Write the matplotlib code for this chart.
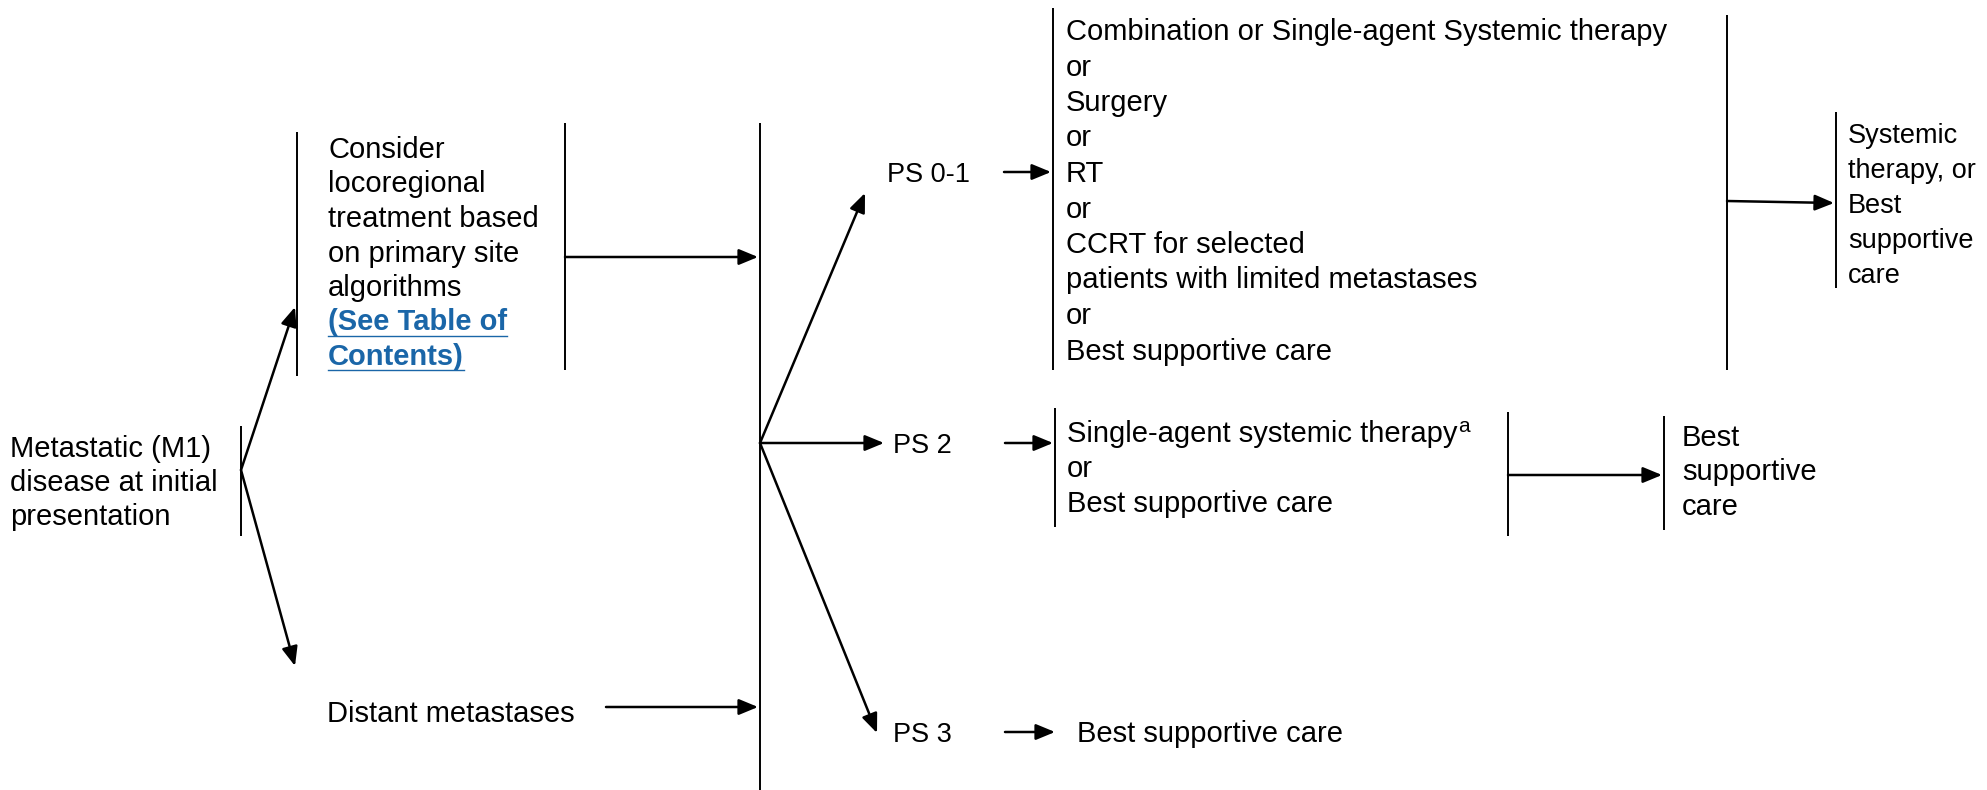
import matplotlib
matplotlib.use("Agg")
import matplotlib.pyplot as plt

# ---------------- data (text content) ----------------
start_lines = ["Metastatic (M1)", "disease at initial", "presentation"]
consider_lines = ["Consider", "locoregional", "treatment based", "on primary site", "algorithms"]
link_lines = ["(See Table of", "Contents)"]
distant_label = "Distant metastases"
ps_labels = ["PS 0-1", "PS 2", "PS 3"]
ps01_options = ["Combination or Single-agent Systemic therapy", "or", "Surgery", "or", "RT", "or",
                "CCRT for selected", "patients with limited metastases", "or", "Best supportive care"]
ps01_next = ["Systemic", "therapy, or", "Best", "supportive", "care"]
ps2_options = ["Single-agent systemic therapy", "or", "Best supportive care"]
ps2_footnote = "a"
ps2_next = ["Best", "supportive", "care"]
ps3_option = "Best supportive care"

# ---------------- layout / style ----------------
W, H = 1987, 790
FS = 21          # pt (≈29 px at 100 dpi)
FS_PS = 19.5
FS_RIGHT = 19.5
FONT = "Liberation Sans"
LINK_COLOR = "#1a66a8"
LW_BAR = 1.4
LW_ARR = 1.8

fig = plt.figure(figsize=(W / 100, H / 100), dpi=100)
ax = fig.add_axes([0, 0, 1, 1])
ax.set_xlim(0, W)
ax.set_ylim(H, 0)
ax.axis("off")


def bar(x, y0, y1):
    ax.plot([x, x], [y0, y1], color="black", lw=LW_BAR, solid_capstyle="butt")


def arrow(x0, y0, x1, y1):
    ax.annotate("", xy=(x1, y1), xytext=(x0, y0),
                arrowprops=dict(arrowstyle="-|>,head_length=0.58,head_width=0.24",
                                mutation_scale=20, lw=LW_ARR, color="black",
                                shrinkA=0, shrinkB=0))


def lines(x, y0, step, items, fs=FS, color="black", weight="normal"):
    out = []
    for i, s in enumerate(items):
        out.append(ax.text(x, y0 + i * step, s, fontsize=fs, family=FONT,
                           va="baseline", ha="left", color=color, fontweight=weight))
    return out


# start node
lines(10, 457, 34.2, start_lines)
bar(241, 426, 536)
arrow(241, 470, 295, 307)
arrow(241, 470, 295, 666)

# consider box
bar(297, 132, 376)
lines(328, 158, 34.5, consider_lines)
link_texts = lines(328, 158 + 5 * 34.5, 34.5, link_lines, color=LINK_COLOR, weight="bold")
bar(565, 123, 370)
arrow(565, 257, 758, 257)

# distant metastases
ax.text(327, 722, distant_label, fontsize=FS, family=FONT, va="baseline", ha="left")
arrow(606, 707, 758, 707)

# central bar
bar(760, 123, 790)
arrow(760, 443, 865, 193)
arrow(760, 443, 884, 443)
arrow(760, 443, 877, 733)

# PS labels
ax.text(887, 182, ps_labels[0], fontsize=FS_PS, family=FONT, va="baseline")
ax.text(893, 453, ps_labels[1], fontsize=FS_PS, family=FONT, va="baseline")
ax.text(893, 742, ps_labels[2], fontsize=FS_PS, family=FONT, va="baseline")
arrow(1004, 172, 1051, 172)
arrow(1005, 443, 1053, 443)
arrow(1005, 732, 1055, 732)

# PS 0-1 options
bar(1053, 8, 370)
lines(1066, 40, 35.5, ps01_options)
bar(1727, 15, 370)
arrow(1727, 201, 1834, 203)
bar(1836, 112, 288)
lines(1848, 143, 35, ps01_next, fs=FS_RIGHT)

# PS 2 options
bar(1055, 408, 527)
t2 = lines(1067, 442, 35, ps2_options)
bar(1508, 412, 536)
arrow(1508, 475, 1662, 475)
bar(1664, 416, 530)
lines(1682, 446, 34.5, ps2_next)

# PS 3
ax.text(1077, 742, ps3_option, fontsize=FS, family=FONT, va="baseline")

# superscript and underline need text extents
fig.canvas.draw()
r = fig.canvas.get_renderer()
inv = ax.transData.inverted()
bb = t2[0].get_window_extent(r)
x_end = inv.transform((bb.x1, bb.y0))[0]
ax.text(x_end + 1, 442 - 10, ps2_footnote, fontsize=15, family=FONT, va="baseline")
for t in link_texts:
    bb = t.get_window_extent(r)
    xa = inv.transform((bb.x0, 0))[0]
    xb = inv.transform((bb.x1, 0))[0]
    yb = t.get_position()[1] + 5
    ax.plot([xa, xb], [yb, yb], color=LINK_COLOR, lw=1.0)

fig.savefig("out.png", dpi=100, facecolor="white")
